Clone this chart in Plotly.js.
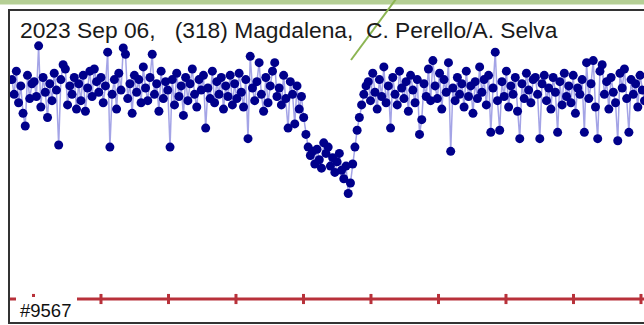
<!DOCTYPE html>
<html>
<head>
<meta charset="utf-8">
<script src="https://cdn.plot.ly/plotly-3.0.1.min.js"></script>
<style>
html,body{margin:0;padding:0;overflow:hidden;background:#fff;}
#chart{width:680px;height:325px;}
</style>
</head>
<body>
<div id="chart"></div>
<script>
// ---- data ----
const titleText = "2023 Sep 06,\u00a0 \u00a0(318) Magdalena,\u00a0 C. Perello/A. Selva";
const stationLabel = "#9567";
const startTime = -0.32;      // s, first frame relative to first tick
const frameStep = 0.033;      // s per frame
const tickTimes = [0, 1, 2, 3, 4, 5, 6, 7, 8, 9];
const flux = [
  1.04, 0.97, 1.08, 0.93, 1.01, 0.88, 0.82, 1.06, 0.95, 1.02,
  1.03, 0.96, 1.20, 0.91, 1.05, 0.98, 0.86, 1.02, 0.94, 1.07,
  0.99, 0.73, 1.04, 1.11, 1.09, 0.92, 1.01, 0.97, 1.05, 0.90,
  1.02, 0.94, 1.06, 0.89, 1.00, 1.08, 0.96, 1.09, 1.03, 0.98,
  1.05, 0.93, 1.01, 1.17, 0.72, 0.97, 1.04, 0.90, 1.07, 0.99,
  1.19, 1.16, 0.95, 1.02, 0.88, 1.06, 0.98, 1.04, 0.93, 1.10,
  1.00, 0.94, 1.05, 1.16, 0.97, 1.02, 0.89, 1.08, 0.95, 1.03,
  0.99, 0.72, 1.04, 0.92, 1.07, 0.96, 1.01, 0.87, 1.05, 0.94,
  1.02, 1.09, 0.97, 0.91, 1.04, 0.99, 1.06, 0.81, 1.00, 0.95,
  1.08, 0.93, 1.03, 0.97, 1.05, 0.90, 1.01, 0.96, 1.06, 0.92,
  1.02, 0.95, 1.07, 0.98, 0.91, 1.04, 0.76, 1.15, 1.00, 0.94,
  1.03, 1.12, 0.97, 0.89, 1.05, 0.93, 1.01, 1.08, 1.12, 0.96,
  1.00, 0.92, 1.06, 0.95, 0.81, 1.03, 0.97, 0.83, 1.01, 0.90,
  0.96, 0.86, 0.78, 0.72, 0.68, 0.70, 0.64, 0.71, 0.66, 0.62,
  0.74, 0.69, 0.72, 0.63, 0.67, 0.60, 0.65, 0.69, 0.61, 0.57,
  0.63, 0.50, 0.55, 0.64, 0.72, 0.80, 0.86, 0.92, 0.97, 1.01,
  1.03, 0.94, 1.07, 0.98, 0.90, 1.04, 0.96, 1.10, 0.93, 1.01,
  0.81, 1.05, 0.97, 0.92, 1.08, 1.00, 0.95, 1.03, 0.89, 1.06,
  0.99, 0.93, 1.04, 0.78, 0.85, 1.02, 0.96, 1.09, 0.94, 1.13,
  1.01, 0.95, 1.07, 0.90, 1.04, 0.98, 1.12, 0.70, 1.00, 0.94,
  1.05, 0.97, 1.02, 0.91, 1.08, 0.96, 1.01, 0.88, 1.03, 0.95,
  1.10, 0.98, 1.04, 0.92, 1.06, 0.79, 1.00, 1.17, 0.94, 0.80,
  1.03, 0.96, 1.08, 0.91, 1.01, 0.97, 1.05, 0.89, 0.76, 1.02,
  0.95, 1.07, 0.99, 0.93, 1.04, 1.05, 0.97, 0.76, 1.02, 1.06,
  0.94, 1.00, 0.90, 1.05, 0.98, 0.79, 1.03, 0.92, 1.07, 0.96,
  1.01, 0.93, 1.06, 0.88, 1.00, 0.97, 1.04, 0.79, 1.12, 0.95,
  1.02, 1.13, 0.91, 0.76, 1.08, 1.11, 0.97, 1.03, 0.90, 1.05,
  0.98, 0.93, 0.75, 1.07, 1.00, 1.09, 0.95, 0.79, 1.04, 0.97,
  1.02, 0.91, 1.06, 0.99, 0.94
];

// ---- layout geometry ----
const W = 680, H = 325;
const M = {l: 10, r: 10, t: 11, b: 3};
const plotW = W - M.l - M.r, plotH = H - M.t - M.b;
const px2x = p => (p - M.l) / plotW;          // pixel -> paper x
const px2y = p => (H - M.b - p) / plotH;      // pixel -> paper y

const times = flux.map((_, i) => startTime + i * frameStep);

const trace = {
  x: times, y: flux, type: 'scatter', mode: 'lines+markers',
  line: {color: 'rgba(90,90,210,0.55)', width: 1.5},
  marker: {color: '#00008b', size: 9},
  hoverinfo: 'none', showlegend: false
};

const red = '#b8313a';
const shapes = [];
// green band at top
shapes.push({type: 'rect', xref: 'paper', yref: 'paper', x0: px2x(-5), x1: px2x(700), y0: px2y(0), y1: px2y(4.5),
  fillcolor: '#b5cf95', line: {width: 0}, layer: 'above'});
// green pointer line
shapes.push({type: 'line', xref: 'paper', yref: 'paper', x0: px2x(396), y0: px2y(-1), x1: px2x(351), y1: px2y(60),
  line: {color: '#8cb552', width: 2}, layer: 'above'});
// red time line
shapes.push({type: 'line', xref: 'paper', yref: 'y', x0: 0, x1: 1, y0: 0, y1: 0,
  line: {color: red, width: 3}, layer: 'above'});
tickTimes.forEach(t => {
  shapes.push({type: 'line', xref: 'x', yref: 'y', x0: t, x1: t, y0: -0.024, y1: 0.024,
    line: {color: red, width: 3}, layer: 'above'});
});
// white label box
shapes.push({type: 'rect', xref: 'paper', yref: 'paper', x0: px2x(16), x1: px2x(77), y0: px2y(297), y1: px2y(320),
  fillcolor: '#ffffff', line: {width: 0}, layer: 'above'});

const layout = {
  width: W, height: H,
  margin: M,
  paper_bgcolor: '#fff', plot_bgcolor: '#fff',
  xaxis: {range: [-0.348, 9.43], showgrid: false, zeroline: false, showticklabels: false, ticks: '',
          showline: true, mirror: true, linecolor: '#333', linewidth: 2},
  yaxis: {range: [-0.109, 1.365], showgrid: false, zeroline: false, showticklabels: false, ticks: '',
          showline: true, mirror: true, linecolor: '#333', linewidth: 2},
  shapes: shapes,
  annotations: [
    {text: titleText, xref: 'paper', yref: 'paper', x: px2x(18), y: px2y(30), xanchor: 'left', yanchor: 'middle',
     showarrow: false, font: {family: 'Arial, Liberation Sans, sans-serif', size: 22.8, color: '#1a1a1a'}},
    {text: stationLabel, xref: 'paper', yref: 'paper', x: px2x(19), y: px2y(310), xanchor: 'left', yanchor: 'middle',
     showarrow: false, borderpad: 0,
     font: {family: 'Arial, Liberation Sans, sans-serif', size: 18.5, color: '#111'}}
  ]
};

Plotly.newPlot('chart', [trace], layout, {staticPlot: true, displayModeBar: false});
</script>
</body>
</html>
